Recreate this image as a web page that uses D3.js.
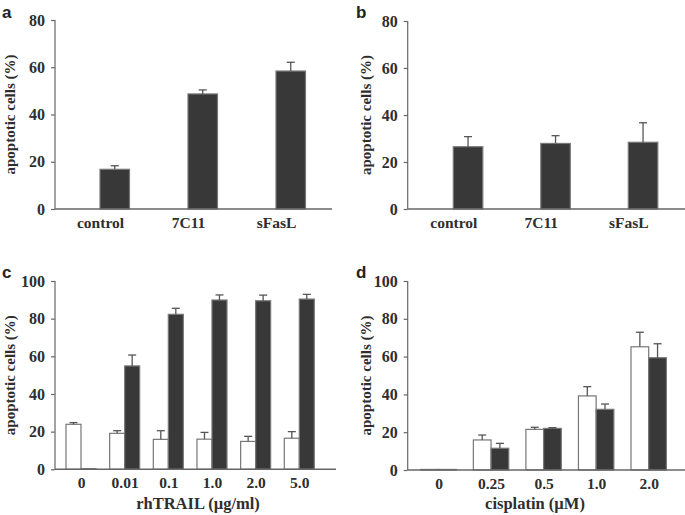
<!DOCTYPE html>
<html>
<head>
<meta charset="utf-8">
<script src="https://cdn.jsdelivr.net/npm/d3@7"></script>
<style>
html,body{margin:0;padding:0;background:#fff;}
</style>
</head>
<body>
<svg id="chart" width="685" height="515"></svg>
<script>
// ---- data ----
const catsA = ["control", "7C11", "sFasL"];
const aWhite = [0, 0, 0];
const aBlack = [16.8, 48.7, 58.4];
const aBlackErr = [1.5, 1.7, 3.7];

const catsB = ["control", "7C11", "sFasL"];
const bWhite = [0, 0, 0];
const bBlack = [26.5, 27.9, 28.4];
const bBlackErr = [4.3, 3.3, 8.3];

const catsC = ["0", "0.01", "0.1", "1.0", "2.0", "5.0"];
const cWhite = [23.9, 19.1, 15.9, 16.0, 14.8, 16.5];
const cWhiteErr = [0.9, 1.4, 4.6, 3.6, 2.7, 3.5];
const cBlack = [0.3, 54.9, 82.3, 89.9, 89.5, 90.4];
const cBlackErr = [0, 5.8, 3.2, 2.7, 3.0, 2.5];

const catsD = ["0", "0.25", "0.5", "1.0", "2.0"];
const dWhite = [0.3, 15.9, 21.5, 39.2, 65.2];
const dWhiteErr = [0, 2.6, 1.1, 4.9, 7.7];
const dBlack = [0.3, 11.5, 22.0, 32.1, 59.4];
const dBlackErr = [0, 2.6, 0.4, 2.8, 7.4];

const ticksAB = [0, 20, 40, 60, 80];
const ticksCD = [0, 20, 40, 60, 80, 100];
const yTitle = "apoptotic cells (%)";

const SERIF = '"Liberation Serif", "Times New Roman", serif';
const SANS = '"Liberation Sans", Arial, sans-serif';
const TXT = "#2e2e2e";
const svg = d3.select("#chart");
const AX = "#666";

function panel(o) {
  const g = svg.append("g");
  const y = d3.scaleLinear().domain([0, o.ymax]).range([o.y0, o.ytop]);
  const x = d3.scalePoint().domain(o.cats).range([o.c0, o.c1]);
  const sub = d3.scaleBand().domain(["w", "b"]).range([-o.bw, o.bw]);

  // y axis
  const yAxis = d3.axisLeft(y).tickValues(o.ticks).tickSize(4).tickPadding(6);
  const ya = g.append("g").attr("transform", `translate(${o.ax},0)`).call(yAxis);
  ya.select(".domain").remove();
  ya.selectAll(".tick line").attr("stroke", AX).attr("stroke-width", 1.2);
  ya.selectAll(".tick text").style("font-family", SERIF).style("font-weight", "bold")
    .style("font-size", "16px").attr("fill", TXT);
  g.append("line").attr("x1", o.ax).attr("x2", o.ax)
    .attr("y1", o.ytop).attr("y2", o.y0).attr("stroke", AX).attr("stroke-width", 1.2);

  // x axis labels
  const xAxis = d3.axisBottom(x).tickSize(0).tickPadding(8);
  const xa = g.append("g").attr("transform", `translate(0,${o.y0})`).call(xAxis);
  xa.select(".domain").remove();
  xa.selectAll(".tick text").style("font-family", SERIF).style("font-weight", "bold")
    .style("font-size", "15.5px").attr("fill", TXT);

  // bars
  const series = [];
  if (o.white) series.push({k: "w", vals: o.white, err: o.whiteErr, fill: "#fff"});
  series.push({k: "b", vals: o.black, err: o.blackErr, fill: "#383838"});
  series.forEach(s => {
    o.cats.forEach((c, i) => {
      const v = s.vals[i];
      const bx = x(c) + sub(s.k);
      g.append("rect").attr("x", bx).attr("y", y(v))
        .attr("width", sub.bandwidth()).attr("height", y(0) - y(v))
        .attr("fill", s.fill).attr("stroke", "#777").attr("stroke-width", 1.2);
      if (s.err && s.err[i] > 0) {
        const cx = bx + sub.bandwidth() / 2;
        g.append("line").attr("x1", cx).attr("x2", cx)
          .attr("y1", y(v)).attr("y2", y(v + s.err[i]))
          .attr("stroke", "#555").attr("stroke-width", 1.3);
        g.append("line").attr("x1", cx - 4).attr("x2", cx + 4)
          .attr("y1", y(v + s.err[i])).attr("y2", y(v + s.err[i]))
          .attr("stroke", "#555").attr("stroke-width", 1.3);
      }
    });
  });

  g.append("line").attr("x1", o.ax).attr("x2", o.xend)
    .attr("y1", o.y0).attr("y2", o.y0).attr("stroke", AX).attr("stroke-width", 1.4);

  // titles
  g.append("text").attr("transform", `translate(${o.ytx},${(o.y0 + o.ytop) / 2}) rotate(-90)`)
    .attr("text-anchor", "middle").attr("dominant-baseline", "middle")
    .style("font-family", SERIF).style("font-weight", "bold").attr("fill", TXT)
    .style("font-size", "15px").text(yTitle);
  if (o.xtitle) {
    g.append("text").attr("x", o.xtx).attr("y", o.xty).attr("text-anchor", "middle")
      .style("font-family", SERIF).style("font-weight", "bold").attr("fill", TXT)
      .style("font-size", "16.5px").text(o.xtitle);
  }
  g.append("text").attr("x", o.plx).attr("y", o.ply)
    .style("font-family", SANS).style("font-weight", "bold").attr("fill", "#222")
    .style("font-size", "17px").text(o.plabel);
}

panel({cats: catsA, white: aWhite, black: aBlack, blackErr: aBlackErr, ymax: 80, ticks: ticksAB,
  ax: 55, ytop: 20, y0: 209, c0: 100, c1: 276, bw: 29.5, xend: 332, ytx: 12,
  plabel: "a", plx: 2, ply: 18});
panel({cats: catsB, white: bWhite, black: bBlack, blackErr: bBlackErr, ymax: 80, ticks: ticksAB,
  ax: 407.7, ytop: 21, y0: 209, c0: 453.3, c1: 628.3, bw: 29.5, xend: 685, ytx: 368,
  plabel: "b", plx: 356, ply: 18});
panel({cats: catsC, white: cWhite, whiteErr: cWhiteErr, black: cBlack, blackErr: cBlackErr, ymax: 100, ticks: ticksCD,
  ax: 55, ytop: 281, y0: 469.3, c0: 81, c1: 299.3, bw: 15, xend: 336, ytx: 12,
  xtitle: "rhTRAIL (\u00b5g/ml)", xtx: 198, xty: 509,
  plabel: "c", plx: 2, ply: 278});
panel({cats: catsD, white: dWhite, whiteErr: dWhiteErr, black: dBlack, blackErr: dBlackErr, ymax: 100, ticks: ticksCD,
  ax: 407.7, ytop: 281, y0: 470, c0: 438.5, c1: 648.7, bw: 17.7, xend: 685, ytx: 368,
  xtitle: "cisplatin (\u00b5M)", xtx: 535, xty: 509,
  plabel: "d", plx: 356, ply: 278});
</script>
</body>
</html>
